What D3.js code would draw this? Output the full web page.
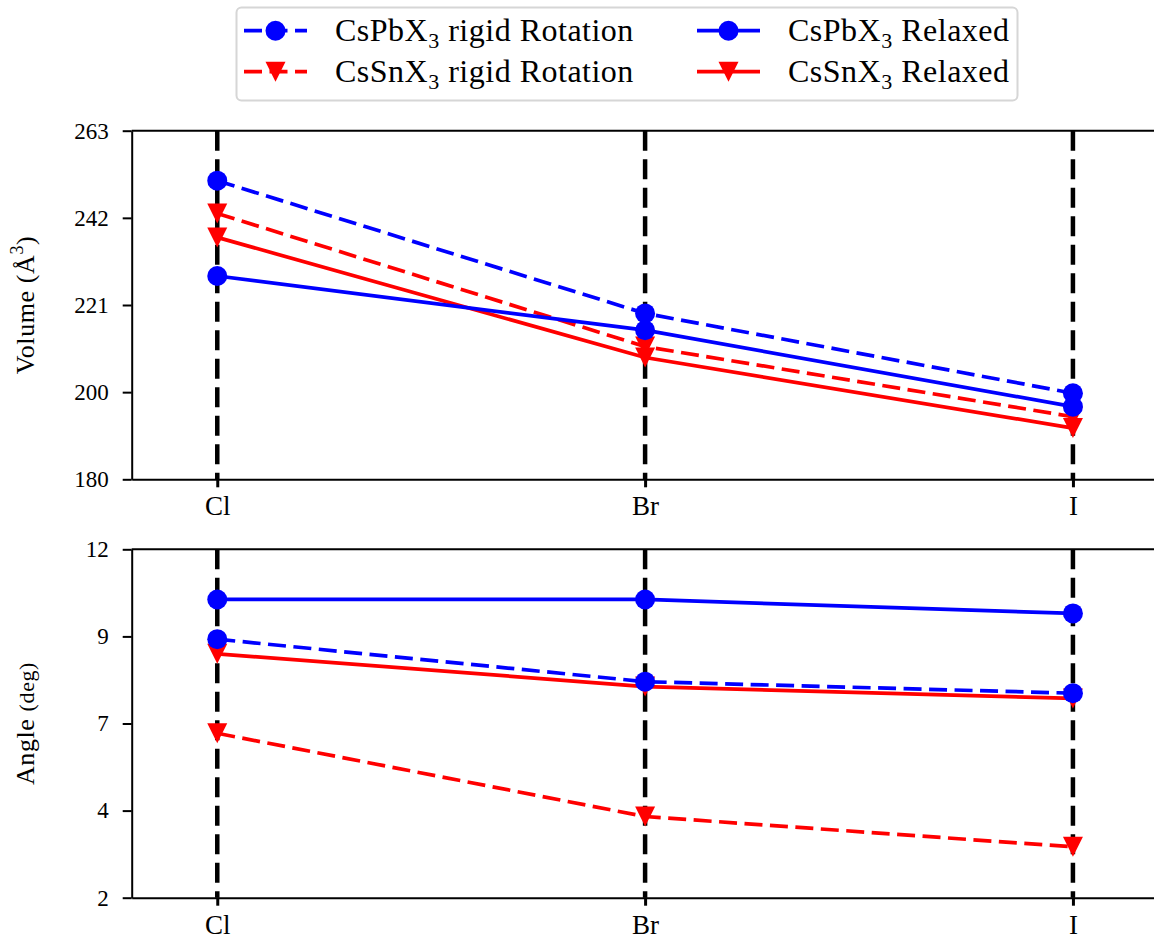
<!DOCTYPE html>
<html>
<head>
<meta charset="utf-8">
<script src="https://cdn.jsdelivr.net/npm/d3@7"></script>
<style>
  body { margin: 0; background: #fff; }
  text { font-family: "Liberation Serif", "DejaVu Serif", serif; fill: #000; }
</style>
</head>
<body>
<svg width="1154" height="940"></svg>
<script>
var halides = ["Cl", "Br", "I"];

// Volume (A^3)
var volPbRigid   = [251.1, 219.5, 200.5];
var volPbRelaxed = [228.4, 215.5, 197.3];
var volSnRigid   = [243.3, 211.6, 194.9];
var volSnRelaxed = [237.6, 209.0, 192.2];
var volTicks  = [180, 200.75, 221.5, 242.25, 263];
var volLabels = ["180", "200", "221", "242", "263"];

// Angle (deg)
var angPbRigid   = [9.42, 8.20, 7.87];
var angPbRelaxed = [10.56, 10.56, 10.16];
var angSnRigid   = [6.72, 4.33, 3.46];
var angSnRelaxed = [9.00, 8.06, 7.72];
var angTicks  = [2, 4.5, 7, 9.5, 12];
var angLabels = ["2", "4", "7", "9", "12"];

var seriesNames = ["CsPbX3 rigid Rotation", "CsSnX3 rigid Rotation", "CsPbX3 Relaxed", "CsSnX3 Relaxed"];

var svg = d3.select("svg");

var x = d3.scaleLinear().domain([-0.2, 2.2]).range([131.7, 1158.5]);

var colDash = "18,7.5";
var blackDash = "20,8.5";

function marker(g, type, cx, cy, color) {
    if (type == "circle") {
        g.append("circle").attr("cx", cx).attr("cy", cy).attr("r", 10).attr("fill", color);
    } else {
        var s = 10;
        g.append("path")
         .attr("d", "M" + (cx - s) + "," + (cy - s) + "L" + (cx + s) + "," + (cy - s) + "L" + cx + "," + (cy + s) + "Z")
         .attr("fill", color);
    }
}

function drawPanel(top, bottom, domain, ticks, labels, series, ylabel) {
    var y = d3.scaleLinear().domain(domain).range([bottom, top]);
    var g = svg.append("g");

    // vertical dashed guides
    halides.forEach(function(h, i) {
        g.append("line")
         .attr("x1", x(i)).attr("x2", x(i))
         .attr("y1", top).attr("y2", bottom)
         .attr("stroke", "#000").attr("stroke-width", 4.5)
         .attr("stroke-dasharray", blackDash);
    });

    var line = d3.line()
                 .x(function(d, i) { return x(i); })
                 .y(function(d) { return y(d); });

    series.forEach(function(s) {
        g.append("path")
         .attr("d", line(s.values))
         .attr("fill", "none")
         .attr("stroke", s.color)
         .attr("stroke-width", 3.7)
         .attr("stroke-dasharray", s.dashed ? colDash : null);
        s.values.forEach(function(v, i) {
            marker(g, s.marker, x(i), y(v), s.color);
        });
    });

    // top spine
    g.append("line").attr("x1", x.range()[0]).attr("x2", 1160).attr("y1", top).attr("y2", top)
     .attr("stroke", "#000").attr("stroke-width", 2);

    var yAxis = d3.axisLeft(y)
                  .tickValues(ticks)
                  .tickSize(9)
                  .tickSizeOuter(0)
                  .tickPadding(14)
                  .tickFormat(function(d, i) { return labels[i]; });
    var ya = g.append("g").attr("transform", "translate(" + x.range()[0] + ",0)").call(yAxis);
    ya.select(".domain").attr("stroke-width", 2);
    ya.selectAll(".tick line").attr("stroke-width", 2);
    ya.selectAll(".tick text").attr("font-size", 23).attr("font-family", "Liberation Serif");

    var xAxis = d3.axisBottom(x)
                  .tickValues([0, 1, 2])
                  .tickSize(8)
                  .tickSizeOuter(0)
                  .tickPadding(9)
                  .tickFormat(function(d) { return halides[d]; });
    var xa = g.append("g").attr("transform", "translate(0," + bottom + ")").call(xAxis);
    xa.select(".domain").attr("stroke-width", 2);
    xa.selectAll(".tick line").attr("stroke-width", 3);
    xa.selectAll(".tick text").attr("font-size", 27).attr("font-family", "Liberation Serif");

    var lab = g.append("text")
               .attr("transform", "translate(34," + ((top + bottom) / 2) + ") rotate(-90)")
               .attr("text-anchor", "middle")
               .attr("font-size", 26)
               .attr("letter-spacing", 0.6);
    ylabel(lab);
}

drawPanel(130.7, 479.3, [180, 263], volTicks, volLabels, [
    { values: volSnRigid,   color: "#ff0000", marker: "tri",    dashed: true },
    { values: volSnRelaxed, color: "#ff0000", marker: "tri",    dashed: false },
    { values: volPbRigid,   color: "#0000ff", marker: "circle", dashed: true },
    { values: volPbRelaxed, color: "#0000ff", marker: "circle", dashed: false }
], function(t) {
    t.append("tspan").text("Volume (Å");
    t.append("tspan").attr("font-size", 18).attr("dy", -11).text("3");
    t.append("tspan").attr("dy", 11).text(")");
});

drawPanel(549.3, 897.7, [2, 12], angTicks, angLabels, [
    { values: angSnRigid,   color: "#ff0000", marker: "tri",    dashed: true },
    { values: angSnRelaxed, color: "#ff0000", marker: "tri",    dashed: false },
    { values: angPbRigid,   color: "#0000ff", marker: "circle", dashed: true },
    { values: angPbRelaxed, color: "#0000ff", marker: "circle", dashed: false }
], function(t) {
    t.append("tspan").text("Angle ");
    t.append("tspan").attr("font-size", 22).text("(deg)");
});

// legend
var leg = svg.append("g");
leg.append("rect")
   .attr("x", 236.5).attr("y", 7.5).attr("width", 781).attr("height", 93)
   .attr("rx", 5).attr("fill", "#fff")
   .attr("stroke", "#d6d6d6").attr("stroke-width", 2);

var legItems = [
    { name: seriesNames[0], color: "#0000ff", marker: "circle", dashed: true,  hx: 244, row: 0 },
    { name: seriesNames[1], color: "#ff0000", marker: "tri",    dashed: true,  hx: 244, row: 1 },
    { name: seriesNames[2], color: "#0000ff", marker: "circle", dashed: false, hx: 697, row: 0 },
    { name: seriesNames[3], color: "#ff0000", marker: "tri",    dashed: false, hx: 697, row: 1 }
];
var rowY = [30.7, 71.7];

legItems.forEach(function(d) {
    var ly = rowY[d.row];
    leg.append("line")
       .attr("x1", d.hx).attr("x2", d.hx + 63)
       .attr("y1", ly).attr("y2", ly)
       .attr("stroke", d.color).attr("stroke-width", 3.7)
       .attr("stroke-dasharray", d.dashed ? colDash : null);
    marker(leg, d.marker, d.hx + 31.5, ly, d.color);

    var parts = d.name.split("X3");
    var t = leg.append("text")
               .attr("x", d.hx + 91).attr("y", ly + 10)
               .attr("font-size", 32)
               .attr("letter-spacing", 0.5);
    t.append("tspan").text(parts[0] + "X");
    t.append("tspan").attr("font-size", 22).attr("dy", 7).text("3");
    t.append("tspan").attr("dy", -7).text(parts[1]);
});
</script>
</body>
</html>
